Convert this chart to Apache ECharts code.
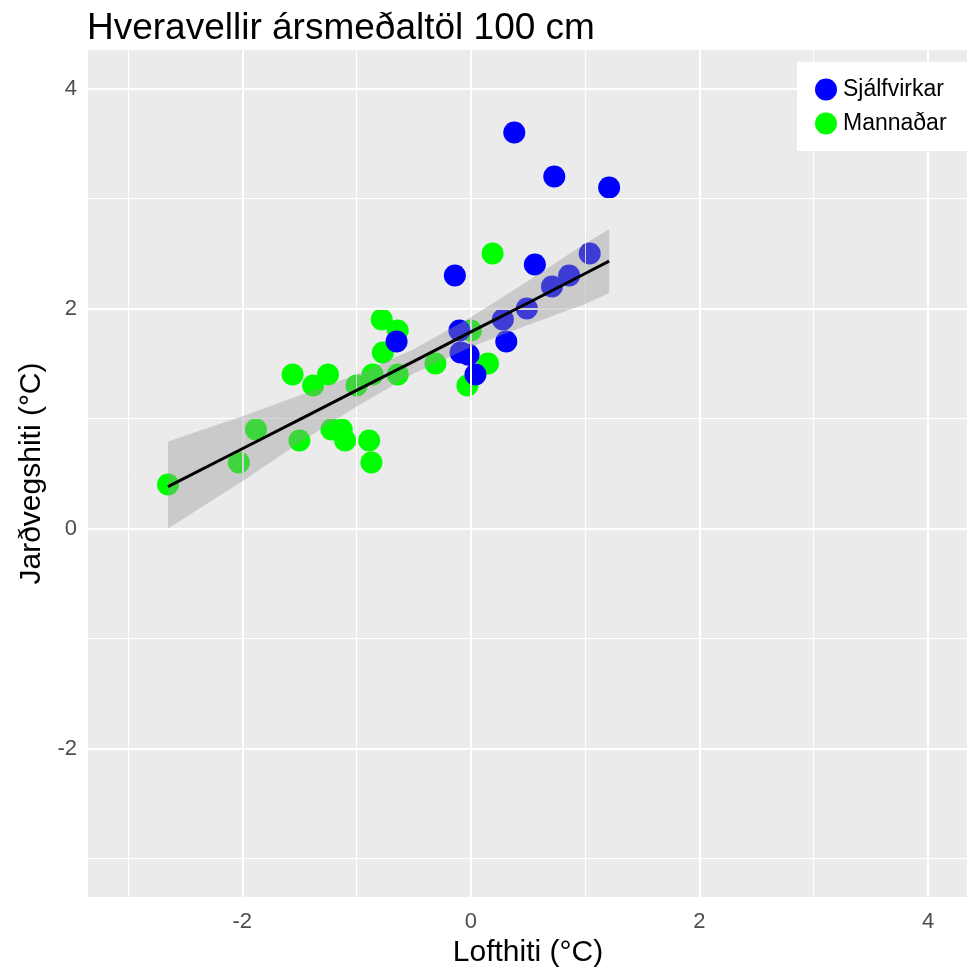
<!DOCTYPE html>
<html>
<head>
<meta charset="utf-8">
<title>Hveravellir ársmeðaltöl 100 cm</title>
<script src="https://cdn.jsdelivr.net/npm/echarts@6/dist/echarts.min.js"></script>
<style>
  html, body { margin: 0; padding: 0; background: #ffffff; }
  #chart { width: 967px; height: 973px; }
</style>
</head>
<body>
<div id="chart"></div>
<script>
// Annual means at Hveravellir: air temperature vs soil temperature at 100 cm
const seriesNames = ['Sjálfvirkar', 'Mannaðar'];

// Automatic station (x = air temp, y = soil temp)
const autoX = [0.38, 0.73, 1.21, 1.04, 0.86, 0.71, 0.56, 0.49, 0.28, 0.31, -0.14, -0.65, -0.10, -0.09, -0.02, 0.04];
const autoY = [3.6, 3.2, 3.1, 2.5, 2.3, 2.2, 2.4, 2.0, 1.9, 1.7, 2.3, 1.7, 1.8, 1.6, 1.58, 1.4];

// Manual observations
const manX = [-2.65, -2.03, -1.88, -1.56, -1.50, -1.38, -1.25, -1.22, -1.13, -1.10, -1.00, -0.89, -0.87, -0.86, -0.78, -0.64, -0.77, -0.64, -0.31, 0.00, 0.15, -0.03, 0.19];
const manY = [0.4, 0.6, 0.9, 1.4, 0.8, 1.3, 1.4, 0.9, 0.9, 0.8, 1.3, 0.8, 0.6, 1.4, 1.9, 1.8, 1.6, 1.4, 1.5, 1.8, 1.5, 1.3, 2.5];

// Linear fit with its confidence band
const smoothX     = [-2.65, -2.0, -1.5, -1.0, -0.5, 0.0, 0.5, 1.0, 1.21];
const smoothFit   = [0.38, 0.725, 0.99, 1.255, 1.52, 1.787, 2.05, 2.318, 2.43];
const smoothUpper = [0.79, 1.02, 1.21, 1.40, 1.63, 1.92, 2.25, 2.59, 2.72];
const smoothLower = [0.00, 0.43, 0.78, 1.11, 1.41, 1.65, 1.85, 2.04, 2.14];

// Axis ticks and grid positions
const tickValues = [-2, 0, 2, 4];
const minorValues = [-3, -1, 1, 3];
const axisMin = -3.35;
const axisMax = 4.35;

const FONT = 'Liberation Sans, Arial, Helvetica, sans-serif';

const pairs = (xs, ys) => xs.map((x, i) => [x, ys[i]]);

const gridLines = [];
minorValues.forEach(v => {
  gridLines.push({ xAxis: v, lineStyle: { width: 1 } });
  gridLines.push({ yAxis: v, lineStyle: { width: 1 } });
});
tickValues.forEach(v => {
  gridLines.push({ xAxis: v, lineStyle: { width: 2 } });
  gridLines.push({ yAxis: v, lineStyle: { width: 2 } });
});

const axisCommon = {
  type: 'value',
  min: axisMin,
  max: axisMax,
  axisLine: { show: false },
  splitLine: { show: false },
  axisTick: { show: true, customValues: tickValues, length: 5, lineStyle: { color: '#333333', width: 1 } },
  axisLabel: { customValues: tickValues, color: '#4d4d4d', fontSize: 22, fontFamily: FONT },
  nameLocation: 'middle',
  nameTextStyle: { color: '#000000', fontSize: 30, fontFamily: FONT }
};

const chart = echarts.init(document.getElementById('chart'), null, { renderer: 'canvas' });

chart.setOption({
  animation: false,
  backgroundColor: '#ffffff',
  title: {
    text: 'Hveravellir ársmeðaltöl 100 cm',
    left: 87,
    top: 10,
    padding: 0,
    textStyle: { color: '#000000', fontSize: 37, fontWeight: 'normal', fontFamily: FONT }
  },
  grid: {
    left: 88, right: -1, top: 50, bottom: 76,
    containLabel: false,
    outerBoundsMode: 'none',
    show: true, backgroundColor: '#ebebeb', borderWidth: 0
  },
  legend: {
    data: ['Sjálfvirkar', 'Mannaðar'],
    orient: 'vertical',
    left: 797,
    top: 62,
    z: 20,
    padding: [16, 40, 16, 18],
    backgroundColor: '#ffffff',
    icon: 'circle',
    itemWidth: 22,
    itemHeight: 22,
    itemGap: 11,
    textStyle: { color: '#000000', fontSize: 23, lineHeight: 22, fontFamily: FONT, padding: [0, 0, 0, 1] },
    selectedMode: false
  },
  xAxis: Object.assign({}, axisCommon, {
    name: 'Lofthiti (°C)',
    nameGap: 36,
    axisLabel: Object.assign({}, axisCommon.axisLabel, { margin: 14 })
  }),
  yAxis: Object.assign({}, axisCommon, {
    name: 'Jarðvegshiti (°C)',
    nameGap: 40,
    axisLabel: Object.assign({}, axisCommon.axisLabel, { margin: 11 })
  }),
  series: [
    {
      // panel grid lines
      type: 'scatter',
      data: [],
      silent: true,
      z: 1,
      markLine: {
        silent: true,
        symbol: ['none', 'none'],
        label: { show: false },
        animation: false,
        lineStyle: { color: '#ffffff', type: 'solid' },
        data: gridLines
      }
    },
    {
      name: seriesNames[1],
      type: 'scatter',
      data: pairs(manX, manY),
      symbol: 'circle',
      symbolSize: 22,
      itemStyle: { color: '#00ff00', opacity: 1 },
      z: 3
    },
    {
      name: seriesNames[0],
      type: 'scatter',
      data: pairs(autoX, autoY),
      symbol: 'circle',
      symbolSize: 22,
      itemStyle: { color: '#0000ff', opacity: 1 },
      z: 4
    },
    {
      // confidence band
      type: 'custom',
      silent: true,
      z: 5,
      data: smoothX.map((x, i) => [x, smoothLower[i], smoothUpper[i]]),
      encode: { x: 0, y: [1, 2] },
      renderItem: function (params, api) {
        if (params.dataIndex !== 0) return null;
        const pts = [];
        for (let i = 0; i < smoothX.length; i++) pts.push(api.coord([smoothX[i], smoothUpper[i]]));
        for (let i = smoothX.length - 1; i >= 0; i--) pts.push(api.coord([smoothX[i], smoothLower[i]]));
        return { type: 'polygon', shape: { points: pts }, style: { fill: 'rgba(153,153,153,0.4)' } };
      }
    },
    {
      type: 'line',
      data: pairs(smoothX, smoothFit),
      showSymbol: false,
      symbol: 'none',
      silent: true,
      z: 6,
      lineStyle: { color: '#000000', width: 3 }
    }
  ]
});
</script>
</body>
</html>
